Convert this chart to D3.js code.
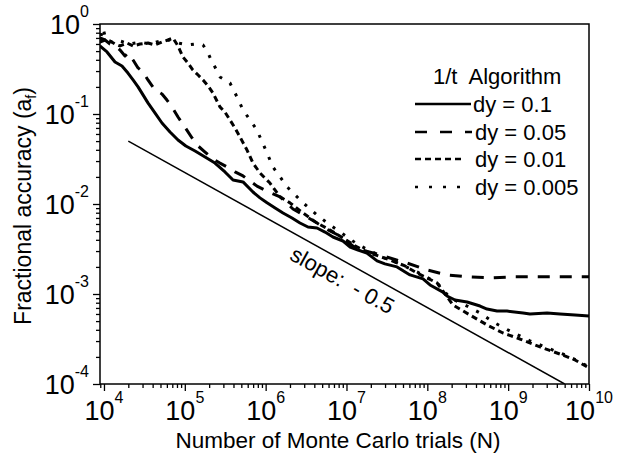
<!DOCTYPE html>
<html><head><meta charset="utf-8">
<script src="https://cdn.jsdelivr.net/npm/d3@7"></script>
<style>
html,body{margin:0;padding:0;background:#fff;}
svg{display:block;font-family:"Liberation Sans",Arial,Helvetica,sans-serif;}
</style>
</head><body>
<svg id="chart" width="617" height="453"></svg>
<script>
// ---- data ----
const nDy01 = [8.9e3,1.09e4,1.37e4,1.67e4,1.98e4,2.29e4,2.64e4,3.04e4,3.5e4,4.27e4,5.22e4,6.56e4,8.24e4,1.03e5,1.34e5,1.78e5,2.36e5,3.14e5,3.95e5,5.25e5,6.97e5,8.51e5,1.04e6,1.31e6,1.64e6,2.12e6,2.66e6,3.34e6,4.32e6,5.42e6,6.81e6,9.05e6,1.11e7,1.39e7,1.79e7,2.39e7,2.99e7,4.22e7,6.11e7,8.85e7,1.08e8,1.56e8,1.75e8,2.2e8,3.1e8,4.49e8,5.48e8,7.28e8,9.68e8,1.53e9,1.86e9,3.03e9,4.38e9,6.71e9,1e10];
const aDy01 = [0.570,0.489,0.378,0.341,0.285,0.239,0.200,0.163,0.133,0.103,0.0794,0.0631,0.0514,0.0441,0.0388,0.0333,0.0285,0.0227,0.0185,0.0176,0.0136,0.0117,0.0103,0.00903,0.00794,0.00699,0.00615,0.00555,0.00541,0.00488,0.00430,0.00388,0.00333,0.00308,0.00285,0.00233,0.00216,0.00200,0.00163,0.00147,0.00126,0.00105,0.00095,0.000858,0.000815,0.000735,0.000681,0.000647,0.000647,0.000615,0.000599,0.000615,0.000599,0.000584,0.000570];

const nDy005 = [8.9e3,1.03e4,1.19e4,1.37e4,1.58e4,1.82e4,1.98e4,2.29e4,2.64e4,3.04e4,3.5e4,4.27e4,5.22e4,6.01e4,6.93e4,8.24e4,1.0e5,1.23e5,1.46e5,1.78e5,2.23e5,2.72e5,3.33e5,4.18e5,5.25e5,7.82e5,1.04e6,1.51e6,2.18e6,3.24e6,4.32e6,6.25e6,8.31e6,1.2e7,1.7e7,2.39e7,3.45e7,5.61e7,9.92e7,1.75e8,3.1e8,5.96e8,1.15e9,3.59e9,1e10];
const aDy005 = [0.699,0.664,0.599,0.570,0.514,0.441,0.476,0.398,0.325,0.293,0.239,0.185,0.167,0.143,0.120,0.0926,0.0717,0.0541,0.0441,0.0378,0.0316,0.0285,0.0258,0.0227,0.0205,0.0158,0.0139,0.0120,0.00880,0.00717,0.00615,0.00501,0.00441,0.00341,0.00301,0.00278,0.00251,0.00221,0.00185,0.00163,0.00155,0.00151,0.00155,0.00155,0.00155];

const nDy001 = [8.9e3,1.03e4,1.19e4,1.37e4,1.58e4,1.93e4,2.29e4,2.79e4,3.5e4,4.27e4,5.22e4,6.19e4,7.14e4,8.24e4,9.49e4,1.09e5,1.26e5,1.46e5,1.68e5,1.94e5,2.23e5,2.72e5,3.14e5,3.62e5,4.18e5,4.82e5,5.88e5,6.97e5,8.51e5,1.13e6,1.51e6,2.0e6,2.9e6,4.32e6,6.25e6,9.05e6,1.35e7,1.95e7,3.45e7,5.3e7,7.45e7,1.32e8,2.08e8,3.37e8,5.48e8,8.63e8,1.4e9,2.48e9,4.38e9,6.71e9,1e10];
const aDy001 = [0.631,0.664,0.648,0.599,0.570,0.615,0.570,0.599,0.615,0.585,0.631,0.664,0.699,0.570,0.430,0.369,0.308,0.271,0.239,0.205,0.171,0.120,0.105,0.0858,0.0699,0.0555,0.0398,0.0285,0.0221,0.0171,0.0120,0.0103,0.00794,0.00615,0.00514,0.00419,0.00333,0.00285,0.00239,0.00205,0.00171,0.00133,0.000755,0.000584,0.000453,0.000369,0.000316,0.000258,0.000215,0.000185,0.000151];

const nDy0005 = [9.2e3,9.72e3,1.06e4,1.26e4,1.58e4,2.1e4,2.79e4,3.71e4,4.93e4,6.56e4,8.24e4,1.09e5,1.37e5,1.68e5,1.94e5,2.17e5,2.36e5,2.72e5,3.62e5,4.42e5,5.25e5,6.4e5,7.82e5,8.51e5,1.04e6,1.23e6,1.51e6,1.84e6,2.18e6,2.9e6,4.32e6,6.25e6,9.05e6,1.35e7,1.95e7,2.99e7,4.59e7,7.45e7,1.32e8,1.91e8,3.1e8,4.49e8,6.5e8,1.05e9,1.86e9,3.3e9,5.83e9,1e10];
const aDy0005 = [0.736,0.903,0.664,0.631,0.648,0.599,0.631,0.599,0.648,0.664,0.615,0.585,0.599,0.585,0.476,0.378,0.333,0.258,0.221,0.155,0.111,0.0858,0.0665,0.0555,0.0369,0.0258,0.0200,0.0155,0.0133,0.0103,0.00755,0.00584,0.00464,0.00359,0.00301,0.00251,0.00216,0.00176,0.00133,0.000903,0.000735,0.000615,0.000489,0.000388,0.000301,0.000245,0.000200,0.000155];

const seriesLabels = ["dy = 0.1", "dy = 0.05", "dy = 0.01", "dy = 0.005"];
const legendTitle = "1/t  Algorithm";
const slopeN = [2e4, 5e9];
const slopeA = [0.05, 1e-4];
const slopeLabel = "slope:  - 0.5";
const xTickExps = [4, 5, 6, 7, 8, 9, 10];
const yTickExps = [0, -1, -2, -3, -4];
const xTitle = "Number of Monte Carlo trials (N)";
const yTitleMain = "Fractional accuracy (a";
const yTitleSub = "f";
const yTitleEnd = ")";

// ---- layout ----
const svg = d3.select("#chart");
const L = 100, R = 589, T = 24, B = 384;
const x = d3.scaleLog().domain([8930, 1e10]).range([L, R]);
const y = d3.scaleLog().domain([1e-4, 1]).range([B, T]);

const styles = [
  {w: 3, dash: null},
  {w: 3, dash: "12,10"},
  {w: 3, dash: "6,4"},
  {w: 3, dash: "3,9"}
];
const seriesN = [nDy01, nDy005, nDy001, nDy0005];
const seriesA = [aDy01, aDy005, aDy001, aDy0005];

svg.append("defs").append("clipPath").attr("id", "clip")
  .append("rect").attr("x", L).attr("y", T).attr("width", R - L).attr("height", B - T);

const line = d3.line().x(d => x(d[0])).y(d => y(d[1]));
const plot = svg.append("g").attr("clip-path", "url(#clip)");
seriesN.forEach((ns, i) => {
  const pts = ns.map((n, j) => [n, seriesA[i][j]]);
  plot.append("path").attr("d", line(pts))
    .attr("fill", "none").attr("stroke", "#000")
    .attr("stroke-width", styles[i].w)
    .attr("stroke-dasharray", styles[i].dash)
    .attr("stroke-linejoin", "round");
});

// slope line
const slopePts = slopeN.map((n, j) => [n, slopeA[j]]);
plot.append("path").attr("d", line(slopePts))
  .attr("fill", "none").attr("stroke", "#000").attr("stroke-width", 1.5);

// slope label
const x0 = x(slopeN[0]), y0 = y(slopeA[0]), x1 = x(slopeN[1]), y1 = y(slopeA[1]);
const ang = Math.atan2(y1 - y0, x1 - x0) * 180 / Math.PI;
const labN = 8e6;
const labA = slopeA[0] * Math.sqrt(slopeN[0] / labN);
svg.append("text")
  .attr("transform", `translate(${x(labN)},${y(labA)}) rotate(${ang})`)
  .attr("x", 14).attr("y", 25)
  .attr("text-anchor", "middle")
  .attr("font-size", 22)
  .style("white-space", "pre")
  .attr("xml:space", "preserve")
  .text(slopeLabel);

// ---- axes ----
const xMajor = xTickExps.map(e => Math.pow(10, e));
const xMinor = [];
for (let e = 3; e < 10; e++) for (let k = 2; k <= 9; k++) {
  const v = k * Math.pow(10, e);
  if (v >= x.domain()[0] && v <= x.domain()[1]) xMinor.push(v);
}
const yMajor = yTickExps.map(e => Math.pow(10, e));
const yMinor = [];
for (let e = -4; e < 0; e++) for (let k = 2; k <= 9; k++) yMinor.push(k * Math.pow(10, e));

const gx1 = svg.append("g").attr("transform", `translate(0,${B})`)
  .call(d3.axisBottom(x).tickValues(xMinor).tickSize(4).tickFormat(""));
const gx2 = svg.append("g").attr("transform", `translate(0,${B})`)
  .call(d3.axisBottom(x).tickValues(xMajor).tickSize(7).tickFormat(""));
const gy1 = svg.append("g").attr("transform", `translate(${L},0)`)
  .call(d3.axisLeft(y).tickValues(yMinor).tickSize(4).tickFormat(""));
const gy2 = svg.append("g").attr("transform", `translate(${L},0)`)
  .call(d3.axisLeft(y).tickValues(yMajor).tickSize(7).tickFormat(""));
[gx1, gx2, gy1, gy2].forEach(g => {
  g.select(".domain").remove();
  g.selectAll(".tick line").attr("stroke", "#000").attr("stroke-width", 1.3);
});

// frame
svg.append("rect").attr("x", L).attr("y", T).attr("width", R - L).attr("height", B - T)
  .attr("fill", "none").attr("stroke", "#000").attr("stroke-width", 1.5);

// tick labels
xTickExps.forEach(e => {
  const t = svg.append("text").attr("x", x(Math.pow(10, e))).attr("y", 420)
    .attr("text-anchor", "middle").attr("font-size", 27);
  t.append("tspan").text("10");
  t.append("tspan").attr("dy", -17).attr("font-size", 16).text(String(e));
});
yTickExps.forEach(e => {
  const t = svg.append("text").attr("x", 89).attr("y", y(Math.pow(10, e)) + 10)
    .attr("text-anchor", "end").attr("font-size", 27);
  t.append("tspan").text("10");
  t.append("tspan").attr("dy", -17).attr("font-size", 16).text(e === 0 ? "0" : "-" + Math.abs(e));
});

// axis titles
svg.append("text").attr("x", 338).attr("y", 448).attr("text-anchor", "middle")
  .attr("font-size", 22.5).text(xTitle);
const yt = svg.append("text").attr("transform", "translate(31,206) rotate(-90)")
  .attr("text-anchor", "middle").attr("font-size", 23);
yt.append("tspan").text(yTitleMain);
yt.append("tspan").attr("dy", 5).attr("font-size", 14).text(yTitleSub);
yt.append("tspan").attr("dy", -5).text(yTitleEnd);

// legend
svg.append("text").attr("x", 433).attr("y", 84).attr("font-size", 22)
  .style("white-space", "pre").attr("xml:space", "preserve").text(legendTitle);
const legY = [104, 132, 159, 187];
const legX2 = [471, 472, 464, 464];
seriesLabels.forEach((lab, i) => {
  svg.append("line").attr("x1", 415).attr("x2", legX2[i]).attr("y1", legY[i]).attr("y2", legY[i])
    .attr("stroke", "#000").attr("stroke-width", styles[i].w - 0.4)
    .attr("stroke-dasharray", i === 1 ? "12,13" : (i === 3 ? "3,11" : styles[i].dash));
  svg.append("text").attr("x", i === 0 ? 473 : 475).attr("y", legY[i] + 7.5)
    .attr("font-size", 22).text(lab);
});
</script>
</body></html>
